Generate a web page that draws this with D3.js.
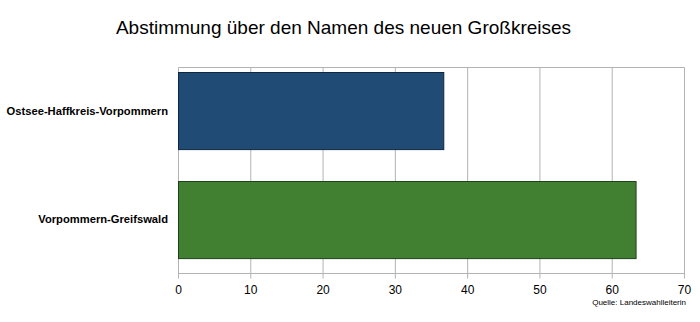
<!DOCTYPE html>
<html><head><meta charset="utf-8">
<script src="https://cdn.jsdelivr.net/npm/d3@7"></script>
<style>body{margin:0;background:#fff}svg{display:block}</style>
</head><body>
<script>
const categories = ["Ostsee-Haffkreis-Vorpommern", "Vorpommern-Greifswald"];
const values = [36.7, 63.3];
const colors = ["#1f4b75", "#418030"];
const strokes = ["#0f2740", "#1e421a"];
const xTicks = [0, 10, 20, 30, 40, 50, 60, 70];
const title = "Abstimmung über den Namen des neuen Großkreises";
const source = "Quelle: Landeswahlleiterin";

const W = 700, H = 322;
const m = {left: 178.5, right: 684.5, top: 67.5, bottom: 273.5};
const svg = d3.select("body").append("svg").attr("width", W).attr("height", H);

const x = d3.scaleLinear().domain([0, 70]).range([m.left, m.right]);
const y = d3.scaleBand().domain(categories).range([m.top, m.bottom])
  .paddingInner(0.287).paddingOuter(0.096).align(0.24);

// gridlines
svg.append("g").selectAll("line").data(xTicks).join("line")
  .attr("x1", d => x(d)).attr("x2", d => x(d))
  .attr("y1", m.top).attr("y2", m.bottom + 5)
  .attr("stroke", "#b3b3b3").attr("stroke-width", 1);
// frame
svg.append("line").attr("x1", m.left).attr("x2", m.right).attr("y1", m.top).attr("y2", m.top)
  .attr("stroke", "#b3b3b3");
svg.append("line").attr("x1", m.left).attr("x2", m.right).attr("y1", m.bottom).attr("y2", m.bottom)
  .attr("stroke", "#b3b3b3");

// bars
svg.append("g").selectAll("rect").data(categories).join("rect")
  .attr("x", x(0))
  .attr("y", d => Math.round(y(d)) + 0.5)
  .attr("width", (d, i) => x(values[i]) - x(0))
  .attr("height", y.bandwidth())
  .attr("fill", (d, i) => colors[i])
  .attr("stroke", (d, i) => strokes[i]).attr("stroke-width", 1);

// category labels
svg.append("g").selectAll("text").data(categories).join("text")
  .attr("x", 168).attr("y", d => y(d) + y.bandwidth() / 2)
  .attr("dy", "0.36em").attr("text-anchor", "end")
  .attr("font-family", "Liberation Sans, Arial, sans-serif")
  .attr("font-size", 11.2).attr("font-weight", "bold").attr("fill", "#000")
  .text(d => d);

// x tick labels
svg.append("g").selectAll("text").data(xTicks).join("text")
  .attr("x", d => x(d)).attr("y", 294).attr("text-anchor", "middle")
  .attr("font-family", "Liberation Sans, Arial, sans-serif")
  .attr("font-size", 12).attr("fill", "#000")
  .text(d => d);

svg.append("text").attr("x", 686).attr("y", 305).attr("text-anchor", "end")
  .attr("font-family", "Liberation Sans, Arial, sans-serif")
  .attr("font-size", 8).attr("fill", "#000").text(source);

svg.append("text").attr("x", 343.5).attr("y", 33.5).attr("text-anchor", "middle")
  .attr("font-family", "Liberation Sans, Arial, sans-serif")
  .attr("font-size", 19).attr("fill", "#000").text(title);
</script>
</body></html>
